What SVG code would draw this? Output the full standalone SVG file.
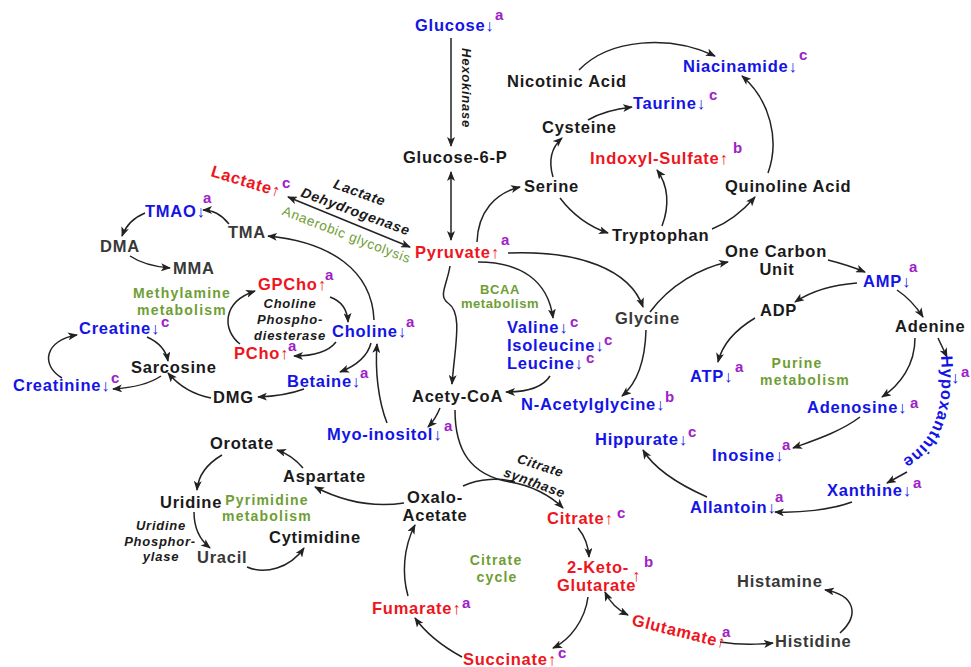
<svg xmlns="http://www.w3.org/2000/svg" width="971" height="667" viewBox="0 0 971 667">
<defs>
<marker id="ah" viewBox="0 0 10 8" refX="9" refY="4" markerWidth="10" markerHeight="8" markerUnits="userSpaceOnUse" orient="auto-start-reverse"><path d="M0,0 L10,4 L0,8 L2.5,4 z" fill="#222"/></marker>
<path id="hxp" d="M941,356 C944,400 940,440 898,462"/>
</defs>
<style>
text{font-family:"Liberation Sans",Arial,sans-serif}
.n{font-size:16.5px;font-weight:bold;letter-spacing:0.75px}
.k{fill:#1a1a1a}.g{fill:#383838}.b{fill:#1414e6}.r{fill:#ee1520}
.p{fill:#a020c8;font-size:15px;font-weight:bold}
.gr{fill:#6e9e34;font-size:14px;font-weight:bold;letter-spacing:1.2px;text-anchor:middle}
.it{fill:#1a1a1a;font-size:13px;font-weight:bold;font-style:italic;letter-spacing:0.75px;text-anchor:middle}
.ar{font-weight:normal}
.c path{fill:none;stroke:#222;stroke-width:1.5;marker-end:url(#ah)}
.c path.d{marker-start:url(#ah)}
.c path.nm{marker-end:none}
</style>
<rect width="971" height="667" fill="#fff"/>
<g id="connectors" class="c">
<path d="M451,38 L451,146"/>
<path class="d" d="M451,172 L451,240"/>
<path class="d" d="M410,247 L288,197"/>
<path d="M229,224 Q218,210 203,210"/>
<path d="M145,213 Q128,220 122,236"/>
<path d="M130,256 Q145,266 170,268"/>
<path d="M374,320 C372,270 330,242 268,236"/>
<path d="M330,297 Q347,303 348,322"/>
<path d="M336,342 Q325,356 294,356"/>
<path d="M240,344 C222,330 222,302 255,291"/>
<path d="M371,343 Q366,362 340,372"/>
<path d="M304,389 Q285,396 258,397"/>
<path d="M211,398 Q185,393 168,373"/>
<path d="M147,337 Q165,345 168,361"/>
<path d="M161,376 Q145,387 113,389"/>
<path d="M62,378 C40,365 45,340 77,335"/>
<path d="M387,423 C378,400 375,370 377,344"/>
<path d="M440,408 Q435,420 428,427"/>
<path d="M450,266 C447,285 438,296 448,303 C463,313 455,345 452,384"/>
<path d="M478,262 C520,262 548,280 553,318"/>
<path d="M550,376 Q540,392 506,392"/>
<path d="M508,253 C580,250 630,270 643,307"/>
<path d="M646,330 C645,365 635,385 622,396"/>
<path d="M650,312 C670,285 700,268 728,262"/>
<path d="M477,242 C478,212 495,193 520,187"/>
<path d="M553,177 C548,160 552,147 562,138"/>
<path d="M588,120 Q605,110 632,107"/>
<path d="M579,70 C610,38 670,35 715,56"/>
<path d="M560,198 C573,215 590,227 608,233"/>
<path d="M662,226 C670,205 668,185 657,170"/>
<path d="M712,229 Q735,220 755,197"/>
<path d="M768,173 C780,140 770,100 742,76"/>
<path d="M828,260 Q848,265 865,272"/>
<path d="M857,283 C830,285 810,292 795,302"/>
<path d="M755,318 C735,330 722,345 718,362"/>
<path d="M897,290 Q912,300 923,317"/>
<path d="M938,338 L947,357"/>
<path d="M915,338 C915,365 900,385 882,397"/>
<path d="M860,417 C840,432 815,440 793,448"/>
<path d="M907,472 L887,483"/>
<path d="M852,502 C830,510 800,513 775,512"/>
<path d="M707,497 C680,485 655,470 643,450"/>
<path d="M303,468 Q292,455 277,450"/>
<path d="M404,503 C370,508 340,500 315,487"/>
<path d="M222,455 C205,465 198,478 197,490"/>
<path d="M194,512 C194,528 200,540 210,548"/>
<path d="M247,567 C265,575 290,568 304,548"/>
<path d="M455,410 C455,450 470,475 510,482 C530,485 550,495 563,508"/>
<path class="nm" d="M463,486 C480,478 500,478 515,482"/>
<path d="M578,528 Q588,540 589,557"/>
<path d="M588,597 C585,620 570,640 553,648"/>
<path d="M462,657 C440,645 425,632 415,618"/>
<path d="M408,596 C402,575 403,548 415,525"/>
<path class="d" d="M605,592 Q612,607 628,615"/>
<path d="M720,642 Q745,646 773,643"/>
<path d="M840,633 C860,615 855,595 825,590"/>
</g>
<g id="glucose"><text class="n b" x="415" y="31">Glucose<tspan class="ar">↓</tspan></text><text class="p" x="495" y="20">a</text></g>
<g id="hexokinase"><text class="it" x="462" y="88" transform="rotate(90 462 88)">Hexokinase</text></g>
<g id="glucose6p"><text class="n k" x="403" y="163">Glucose-6-P</text></g>
<g id="pyruvate"><text class="n r" x="415" y="258">Pyruvate<tspan class="ar">↑</tspan></text><text class="p" x="501" y="245">a</text></g>
<g id="lactate"><text class="n r" x="210" y="176" transform="rotate(17 210 176)">Lactate<tspan class="ar">↑</tspan></text><text class="p" x="282" y="188">c</text></g>
<g id="ldh"><text class="it" style="font-size:14px" x="358" y="197" transform="rotate(20 358 197)">Lactate</text><text class="it" style="font-size:14px" x="354" y="216" transform="rotate(20 354 216)">Dehydrogenase</text><text style="fill:#6e9e34;font-size:13.5px;letter-spacing:0.7px;text-anchor:middle" x="345" y="239" transform="rotate(21 345 239)">Anaerobic glycolysis</text></g>
<g id="tmao"><text class="n b" x="145" y="217">TMAO<tspan class="ar">↓</tspan></text><text class="p" x="203" y="203">a</text></g>
<g id="tma"><text class="n g" x="228" y="238">TMA</text></g>
<g id="dma"><text class="n g" x="100" y="252">DMA</text></g>
<g id="mma"><text class="n g" x="173" y="274">MMA</text></g>
<g id="methylamine"><text class="gr" x="182" y="298">Methylamine</text><text class="gr" x="182" y="315">metabolism</text></g>
<g id="gpcho"><text class="n r" x="258" y="290">GPCho<tspan class="ar">↑</tspan></text><text class="p" x="325" y="280">a</text></g>
<g id="cpd"><text class="it" x="290" y="308">Choline</text><text class="it" x="290" y="324">Phospho-</text><text class="it" x="290" y="340">diesterase</text></g>
<g id="choline"><text class="n b" x="332" y="337">Choline<tspan class="ar">↓</tspan></text><text class="p" x="406" y="327">a</text></g>
<g id="pcho"><text class="n r" x="234" y="359">PCho<tspan class="ar">↑</tspan></text><text class="p" x="288" y="351">a</text></g>
<g id="betaine"><text class="n b" x="287" y="387">Betaine<tspan class="ar">↓</tspan></text><text class="p" x="360" y="378">a</text></g>
<g id="dmg"><text class="n k" x="213" y="403">DMG</text></g>
<g id="sarcosine"><text class="n k" x="131" y="373">Sarcosine</text></g>
<g id="creatine"><text class="n b" x="79" y="334">Creatine<tspan class="ar">↓</tspan></text><text class="p" x="161" y="327">c</text></g>
<g id="creatinine"><text class="n b" x="13" y="391">Creatinine<tspan class="ar">↓</tspan></text><text class="p" x="111" y="383">c</text></g>
<g id="myoinositol"><text class="n b" x="327" y="440">Myo-inositol<tspan class="ar">↓</tspan></text><text class="p" x="444" y="431">a</text></g>
<g id="acetycoa"><text class="n k" x="412" y="402">Acety-CoA</text></g>
<g id="bcaa"><text class="gr" style="font-size:13px;letter-spacing:0.6px" x="500" y="294">BCAA</text><text class="gr" style="font-size:13px;letter-spacing:0.6px" x="500" y="308">metabolism</text></g>
<g id="valine"><text class="n b" x="507" y="333">Valine<tspan class="ar">↓</tspan></text><text class="p" x="570" y="327">c</text></g>
<g id="isoleucine"><text class="n b" x="507" y="351">Isoleucine<tspan class="ar">↓</tspan></text><text class="p" x="604" y="345">c</text></g>
<g id="leucine"><text class="n b" x="507" y="369">Leucine<tspan class="ar">↓</tspan></text><text class="p" x="586" y="363">c</text></g>
<g id="nacetylglycine"><text class="n b" x="521" y="410">N-Acetylglycine<tspan class="ar">↓</tspan></text><text class="p" x="665" y="402">b</text></g>
<g id="glycine"><text class="n g" x="615" y="324">Glycine</text></g>
<g id="serine"><text class="n k" x="524" y="192">Serine</text></g>
<g id="cysteine"><text class="n k" x="542" y="133">Cysteine</text></g>
<g id="taurine"><text class="n b" x="633" y="109">Taurine<tspan class="ar">↓</tspan></text><text class="p" x="709" y="100">c</text></g>
<g id="nicotinic"><text class="n k" x="507" y="87">Nicotinic Acid</text></g>
<g id="niacinamide"><text class="n b" x="683" y="72">Niacinamide<tspan class="ar">↓</tspan></text><text class="p" x="799" y="60">c</text></g>
<g id="indoxyl"><text class="n r" x="590" y="164">Indoxyl-Sulfate<tspan class="ar">↑</tspan></text><text class="p" x="733" y="153">b</text></g>
<g id="quinoline"><text class="n k" x="725" y="192">Quinoline Acid</text></g>
<g id="tryptophan"><text class="n k" x="612" y="241">Tryptophan</text></g>
<g id="onecarbon"><text class="n k" x="776" y="257" text-anchor="middle">One Carbon</text><text class="n k" x="777" y="275" text-anchor="middle">Unit</text></g>
<g id="amp"><text class="n b" x="863" y="287">AMP<tspan class="ar">↓</tspan></text><text class="p" x="909" y="272">a</text></g>
<g id="adp"><text class="n k" x="760" y="316">ADP</text></g>
<g id="atp"><text class="n b" x="690" y="382">ATP<tspan class="ar">↓</tspan></text><text class="p" x="735" y="372">a</text></g>
<g id="purine"><text class="gr" x="797" y="368">Purine</text><text class="gr" x="805" y="385">metabolism</text></g>
<g id="adenine"><text class="n k" x="895" y="332">Adenine</text></g>
<g id="hypoxanthine"><text class="n b"><textPath href="#hxp">Hypoxanthine</textPath></text><text class="n b" x="951" y="383"><tspan class="ar">↓</tspan></text><text class="p" x="961" y="377">a</text></g>
<g id="adenosine"><text class="n b" x="807" y="413">Adenosine<tspan class="ar">↓</tspan></text><text class="p" x="910" y="408">a</text></g>
<g id="inosine"><text class="n b" x="712" y="461">Inosine<tspan class="ar">↓</tspan></text><text class="p" x="782" y="450">a</text></g>
<g id="xanthine"><text class="n b" x="827" y="496">Xanthine<tspan class="ar">↓</tspan></text><text class="p" x="913" y="488">a</text></g>
<g id="allantoin"><text class="n b" x="690" y="513">Allantoin<tspan class="ar">↓</tspan></text><text class="p" x="775" y="502">a</text></g>
<g id="hippurate"><text class="n b" x="595" y="445">Hippurate<tspan class="ar">↓</tspan></text><text class="p" x="688" y="437">c</text></g>
<g id="orotate"><text class="n k" x="210" y="449">Orotate</text></g>
<g id="aspartate"><text class="n k" x="283" y="482">Aspartate</text></g>
<g id="uridine"><text class="n k" x="160" y="508">Uridine</text></g>
<g id="pyrimidine"><text class="gr" x="267" y="505">Pyrimidine</text><text class="gr" x="267" y="521">metabolism</text></g>
<g id="upase"><text class="it" x="161" y="530">Uridine</text><text class="it" x="160" y="546">Phosphor-</text><text class="it" x="161" y="561">ylase</text></g>
<g id="uracil"><text class="n g" x="197" y="563">Uracil</text></g>
<g id="cytimidine"><text class="n k" x="269" y="543">Cytimidine</text></g>
<g id="oxaloacetate"><text class="n k" x="435" y="503" text-anchor="middle">Oxalo-</text><text class="n k" x="435" y="521" text-anchor="middle">Acetate</text></g>
<g id="csynthase"><text class="it" style="font-size:13.5px" x="539" y="470" transform="rotate(18 539 470)">Citrate</text><text class="it" style="font-size:13.5px" x="533" y="487" transform="rotate(20 533 487)">synthase</text></g>
<g id="citrate"><text class="n r" x="547" y="524">Citrate<tspan class="ar">↑</tspan></text><text class="p" x="617" y="518">c</text></g>
<g id="citratecycle"><text class="gr" x="496" y="565">Citrate</text><text class="gr" x="497" y="582">cycle</text></g>
<g id="ketoglutarate"><text class="n r" x="567" y="573">2-Keto-</text><text class="n r" x="557" y="591">Glutarate</text><text class="n r" x="632" y="581"><tspan class="ar">↑</tspan></text><text class="p" x="644" y="567">b</text></g>
<g id="succinate"><text class="n r" x="463" y="665">Succinate<tspan class="ar">↑</tspan></text><text class="p" x="558" y="658">c</text></g>
<g id="fumarate"><text class="n r" x="372" y="614">Fumarate<tspan class="ar">↑</tspan></text><text class="p" x="462" y="608">a</text></g>
<g id="glutamate"><text class="n r" x="631" y="625" transform="rotate(14 631 625)">Glutamate<tspan class="ar">↑</tspan></text><text class="p" x="722" y="637">a</text></g>
<g id="histidine"><text class="n g" x="775" y="647">Histidine</text></g>
<g id="histamine"><text class="n g" x="737" y="587">Histamine</text></g>
</svg>
